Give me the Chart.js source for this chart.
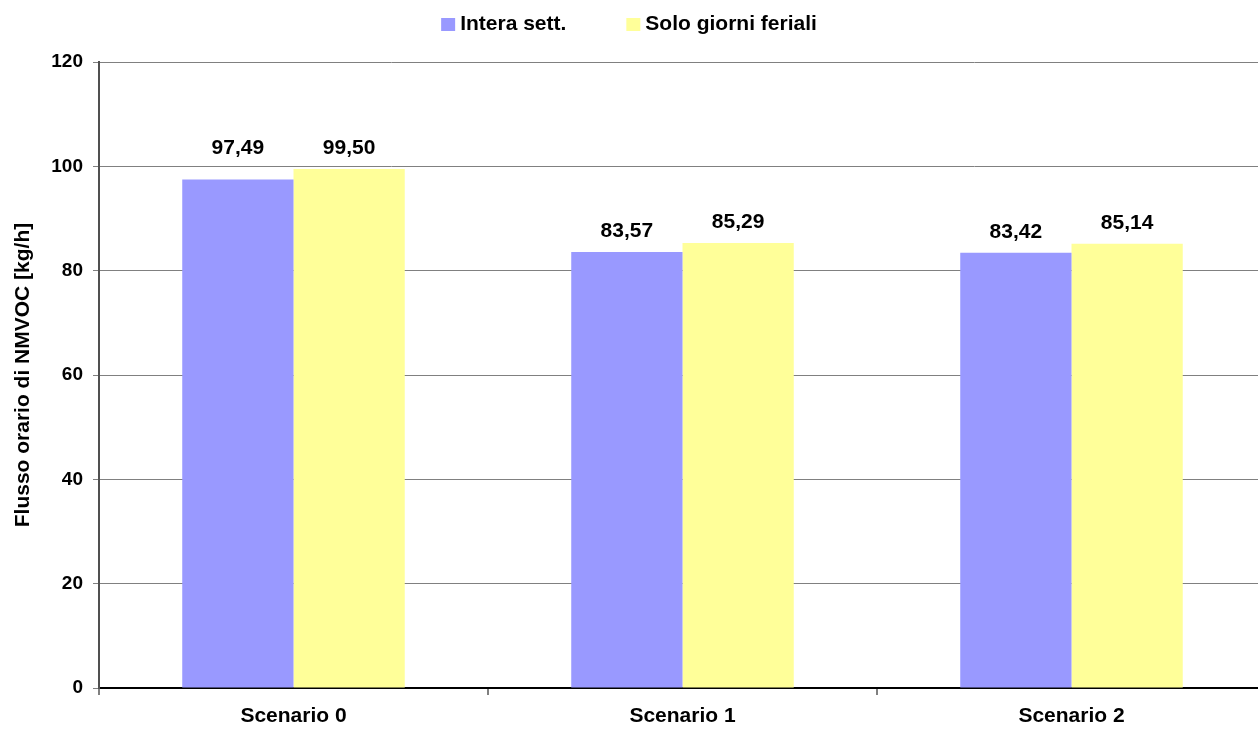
<!DOCTYPE html>
<html>
<head>
<meta charset="utf-8">
<script src="https://cdn.jsdelivr.net/npm/chart.js@4.4.0/dist/chart.umd.min.js"></script>
<style>
  html, body { margin: 0; padding: 0; background: #ffffff; overflow: hidden; }
  #wrap { position: relative; width: 1266px; height: 729px; }
</style>
</head>
<body>
<div id="wrap"><canvas id="chart"></canvas></div>
<script>
// Hourly NMVOC flow per scenario
const categories = ['Scenario 0', 'Scenario 1', 'Scenario 2'];
const seriesNames = ['Intera sett.', 'Solo giorni feriali'];
const interaSett = [97.49, 83.57, 83.42];
const soloFeriali = [99.50, 85.29, 85.14];
const yTicks = [0, 20, 40, 60, 80, 100, 120];
const yTitle = 'Flusso orario di NMVOC [kg/h]';

const FONT = 'Arial, "Liberation Sans", sans-serif';
const colors = ['#9999FF', '#FFFF99'];

// Legend drawn as a single centred row above the plot
const topLegend = {
  id: 'topLegend',
  afterDraw(chart) {
    const ctx = chart.ctx;
    ctx.save();
    ctx.font = 'bold 21px ' + FONT;
    ctx.textBaseline = 'middle';
    const box = 14, gapText = 5, gapItem = 60;
    const items = chart.data.datasets.map(d => ({ text: d.label, color: d.backgroundColor, w: ctx.measureText(d.label).width }));
    const total = items.reduce((s, it) => s + box + gapText + it.w, 0) + gapItem * (items.length - 1);
    let x = chart.width / 2 - 4 - total / 2;
    const cy = 24;
    items.forEach(it => {
      ctx.fillStyle = it.color;
      ctx.fillRect(x, cy - 6, box, 13);
      ctx.fillStyle = '#000000';
      ctx.fillText(it.text, x + box + gapText, cy);
      x += box + gapText + it.w + gapItem;
    });
    ctx.restore();
  }
};

// Value labels above each bar, nudged upward when they would sit on a gridline
const valueLabels = {
  id: 'valueLabels',
  afterDatasetsDraw(chart) {
    const ctx = chart.ctx;
    const yScale = chart.scales.y;
    const gridYs = yTicks.map(v => yScale.getPixelForValue(v));
    ctx.save();
    ctx.font = 'bold 21px ' + FONT;
    ctx.fillStyle = '#000000';
    ctx.textAlign = 'center';
    ctx.textBaseline = 'middle';
    chart.data.datasets.forEach((ds, di) => {
      chart.getDatasetMeta(di).data.forEach((bar, i) => {
        let cy = bar.y - 21;
        const hit = gridYs.find(g => g > cy - 10 && g < cy + 10);
        if (hit !== undefined) cy = hit - 18;
        ctx.fillText(ds.data[i].toFixed(2).replace('.', ','), bar.x, cy);
      });
    });
    ctx.restore();
  }
};

new Chart(document.getElementById('chart'), {
  type: 'bar',
  data: {
    labels: categories,
    datasets: [
      { label: seriesNames[0], data: interaSett, backgroundColor: colors[0] },
      { label: seriesNames[1], data: soloFeriali, backgroundColor: colors[1] }
    ]
  },
  options: {
    responsive: true,
    maintainAspectRatio: false,
    animation: false,
    layout: { padding: { top: 62, left: 0, right: 0, bottom: 0 } },
    datasets: { bar: { barPercentage: 1.0, categoryPercentage: 0.572, borderWidth: 0 } },
    plugins: { legend: { display: false }, tooltip: { enabled: false } },
    scales: {
      x: {
        offset: true,
        grid: { display: true, drawOnChartArea: false, offset: true, tickLength: 7, color: '#808080', lineWidth: 2 },
        border: { display: true, color: '#000000', width: 2 },
        ticks: { color: '#000000', font: { family: FONT, size: 21, weight: 'bold' }, padding: 9 },
        afterFit(scale) { scale.height = 41; }
      },
      y: {
        min: 0, max: 120,
        afterBuildTicks(scale) { scale.ticks = yTicks.map(v => ({ value: v })); },
        grid: { color: '#808080', lineWidth: 1, tickLength: 6 },
        border: { display: true, color: '#505050', width: 2 },
        ticks: { color: '#000000', font: { family: FONT, size: 19, weight: 'bold' }, padding: 10 },
        title: { display: true, text: yTitle, color: '#000000', font: { family: FONT, size: 21, weight: 'bold' }, padding: { top: 11, bottom: 0 } },
        afterFit(scale) { scale.width = 99; }
      }
    }
  },
  plugins: [topLegend, valueLabels]
});
</script>
</body>
</html>
